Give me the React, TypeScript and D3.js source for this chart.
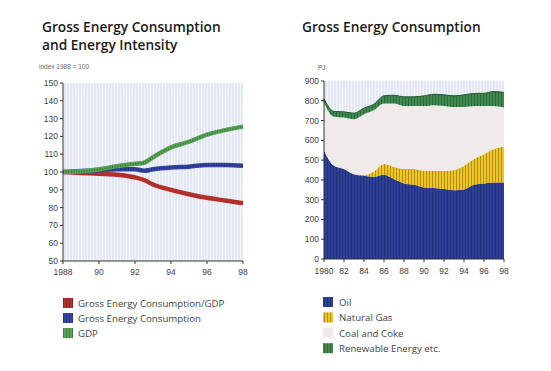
import { scaleLinear, line as d3_line, area as d3_area, curveMonotoneX } from "d3";

// left chart: index 1988 = 100
const idxYears = [1988, 1989, 1990, 1991, 1992, 1992.5, 1993, 1994, 1995, 1996, 1997, 1998];
const intensity = [100, 99.5, 99, 98.5, 97, 95.5, 93, 90, 87.5, 85.5, 84, 82.5];
const consumption = [100, 100.5, 101, 101.5, 101.5, 100.7, 101.5, 102.5, 103, 104, 104, 103.5];
const gdp = [100, 100.4, 101.5, 103.3, 104.6, 105.2, 108.3, 113.8, 117, 121, 123.5, 125.5];
const idxTicks = [50, 60, 70, 80, 90, 100, 110, 120, 130, 140, 150];
const idxXTicks = [1988, 1990, 1992, 1994, 1996, 1998];
const idxXLabels = ["1988", "90", "92", "94", "96", "98"];

// right chart: PJ
const years = [1980, 1981, 1982, 1983, 1984, 1985, 1986, 1987, 1988, 1989, 1990, 1991, 1992, 1993, 1994, 1995, 1996, 1997, 1998];
const oil = [547, 471, 455, 429, 421, 416, 426, 404, 382, 375, 362, 359, 354, 348, 352, 375, 382, 387, 387];
const gas = [0, 0, 0, 0, 4, 27, 54, 62, 73, 80, 84, 87, 92, 101, 119, 130, 148, 169, 180];
const coal = [243, 248, 260, 278, 307, 310, 306, 320, 319, 319, 328, 332, 328, 320, 298, 269, 244, 218, 199];
const renewable = [20, 27, 29, 30, 31, 30, 39, 42, 46, 46, 51, 55, 56, 56, 61, 63, 64, 73, 76];
const pjTicks = [0, 100, 200, 300, 400, 500, 600, 700, 800, 900];
const pjXTicks = [1980, 1982, 1984, 1986, 1988, 1990, 1992, 1994, 1996, 1998];
const pjXLabels = ["1980", "82", "84", "86", "88", "90", "92", "94", "96", "98"];

const leftLegend = ["Gross Energy Consumption/GDP", "Gross Energy Consumption", "GDP"];
const rightLegend = ["Oil", "Natural Gas", "Coal and Coke", "Renewable Energy etc."];

const tickFont = "'Liberation Sans', Arial, sans-serif";
const textFont = "'Open Sans', 'Noto Sans', sans-serif";

function IndexChart() {
  const x = scaleLinear().domain([1988, 1998]).range([63, 243]);
  const y = scaleLinear().domain([50, 150]).range([261, 83]);

  const mk = (vals: number[]) =>
    d3_line<number>()
      .x((_, i) => x(idxYears[i]))
      .y((v) => y(v))
      .curve(curveMonotoneX)(vals) ?? "";

  const series = [
    { d: mk(intensity), c: "#b3302a", dot: "#8a1f1a" },
    { d: mk(consumption), c: "#3446a0", dot: "#1c2670" },
    { d: mk(gdp), c: "#58a556", dot: "#2f6a37" },
  ];

  return (
    <g>
      <text x={42} y={32} fontFamily={textFont} fontWeight={600} fontSize={13.7} fill="#1a1a1a">
        Gross Energy Consumption
      </text>
      <text x={42} y={50} fontFamily={textFont} fontWeight={600} fontSize={13.7} fill="#1a1a1a">
        and Energy Intensity
      </text>
      <text x={39} y={69} fontFamily={tickFont} fontSize={6.5} fill="#666">
        index 1988 = 100
      </text>

      <rect x={63} y={83} width={180} height={178} fill="#e4e8f5" />
      <rect x={63} y={83} width={180} height={178} fill="url(#lightStripes)" />

      {series.map((s, i) => (
        <g key={i}>
          <path d={s.d} fill="none" stroke={s.c} strokeWidth={4.5} strokeLinejoin="round" />
          {i > 0 && (
            <path d={s.d} fill="none" stroke={s.dot} strokeWidth={2.2} strokeDasharray="1 1.6" opacity={0.8} />
          )}
        </g>
      ))}

      {/* axes */}
      <line x1={63} x2={63} y1={83} y2={261} stroke="#333" strokeWidth={1} />
      <line x1={63} x2={243} y1={261} y2={261} stroke="#333" strokeWidth={1} />
      {idxTicks.map((t) => (
        <g key={t}>
          <line x1={60} x2={63} y1={y(t)} y2={y(t)} stroke="#333" />
          <text x={58} y={y(t) + 3} textAnchor="end" fontFamily={tickFont} fontSize={8.5} fill="#444">
            {t}
          </text>
        </g>
      ))}
      {idxXTicks.map((t, i) => (
        <g key={t}>
          <line x1={x(t)} x2={x(t)} y1={261} y2={264} stroke="#333" />
          <text x={x(t)} y={275} textAnchor="middle" fontFamily={tickFont} fontSize={8.5} fill="#444">
            {idxXLabels[i]}
          </text>
        </g>
      ))}

      {leftLegend.map((label, i) => (
        <g key={label}>
          <rect x={63} y={298 + i * 15} width={10} height={10} fill={series[i].c} />
          <rect x={63} y={298 + i * 15} width={10} height={10} fill="url(#darkStripes)" />
          <text x={78} y={307 + i * 15} fontFamily={textFont} fontSize={9.7} fill="#444">
            {label}
          </text>
        </g>
      ))}
    </g>
  );
}

function PJChart() {
  const x = scaleLinear().domain([1980, 1998]).range([324, 504]);
  const y = scaleLinear().domain([0, 900]).range([259, 81]);

  const stacked = years.map((_, i) => {
    const a = oil[i];
    const b = a + gas[i];
    const c = b + coal[i];
    const d = c + renewable[i];
    return [0, a, b, c, d];
  });

  const band = (k: number) =>
    d3_area<number[]>()
      .x((_, i) => x(years[i]))
      .y0((s) => y(s[k]))
      .y1((s) => y(s[k + 1]))
      .curve(curveMonotoneX)(stacked) ?? "";

  const colors = ["#2e3f98", "#f2c51c", "#efebea", "#3f8b4c"];

  return (
    <g>
      <text x={302} y={32} fontFamily={textFont} fontWeight={600} fontSize={13.7} fill="#1a1a1a">
        Gross Energy Consumption
      </text>
      <text x={318} y={70} fontFamily={tickFont} fontSize={6.5} fill="#666">
        PJ
      </text>

      <rect x={324} y={81} width={180} height={178} fill="#e4e8f5" />
      <rect x={324} y={81} width={180} height={178} fill="url(#lightStripes)" />

      {colors.map((c, k) => (
        <g key={k}>
          <path d={band(k)} fill={c} />
          {k !== 2 && <path d={band(k)} fill="url(#darkStripes)" />}
        </g>
      ))}
      <path
        d={
          d3_line<number[]>()
            .x((_, i) => x(years[i]))
            .y((s) => y(s[4]))
            .curve(curveMonotoneX)(stacked) ?? ""
        }
        fill="none"
        stroke="#245a30"
        strokeWidth={1}
      />

      {/* axes */}
      <line x1={324} x2={324} y1={81} y2={259} stroke="#333" />
      <line x1={324} x2={504} y1={259} y2={259} stroke="#333" />
      {pjTicks.map((t) => (
        <g key={t}>
          <line x1={321} x2={324} y1={y(t)} y2={y(t)} stroke="#333" />
          <text x={319} y={y(t) + 3} textAnchor="end" fontFamily={tickFont} fontSize={8.5} fill="#444">
            {t}
          </text>
        </g>
      ))}
      {pjXTicks.map((t, i) => (
        <g key={t}>
          <line x1={x(t)} x2={x(t)} y1={259} y2={262} stroke="#333" />
          <text x={x(t)} y={274} textAnchor="middle" fontFamily={tickFont} fontSize={8.5} fill="#444">
            {pjXLabels[i]}
          </text>
        </g>
      ))}

      {rightLegend.map((label, i) => (
        <g key={label}>
          <rect x={323} y={297 + i * 15.4} width={10} height={10} fill={colors[i]} />
          {i !== 2 && <rect x={323} y={297 + i * 15.4} width={10} height={10} fill="url(#darkStripes)" />}
          <text x={339} y={306 + i * 15.4} fontFamily={textFont} fontSize={9.7} fill="#444">
            {label}
          </text>
        </g>
      ))}
    </g>
  );
}

export default function App() {
  return (
    <svg
      width={551}
      height={371}
      viewBox="0 0 551 371"
      style={{ position: "absolute", left: 0, top: 0, background: "#fff" }}
    >
      <defs>
        <pattern id="lightStripes" width={3} height={10} patternUnits="userSpaceOnUse">
          <rect x={0} y={0} width={1} height={10} fill="#ffffff" opacity={0.55} />
        </pattern>
        <pattern id="darkStripes" width={3} height={10} patternUnits="userSpaceOnUse">
          <rect x={0} y={0} width={1} height={10} fill="#0a0f30" opacity={0.3} />
        </pattern>
      </defs>
      <IndexChart />
      <PJChart />
    </svg>
  );
}
